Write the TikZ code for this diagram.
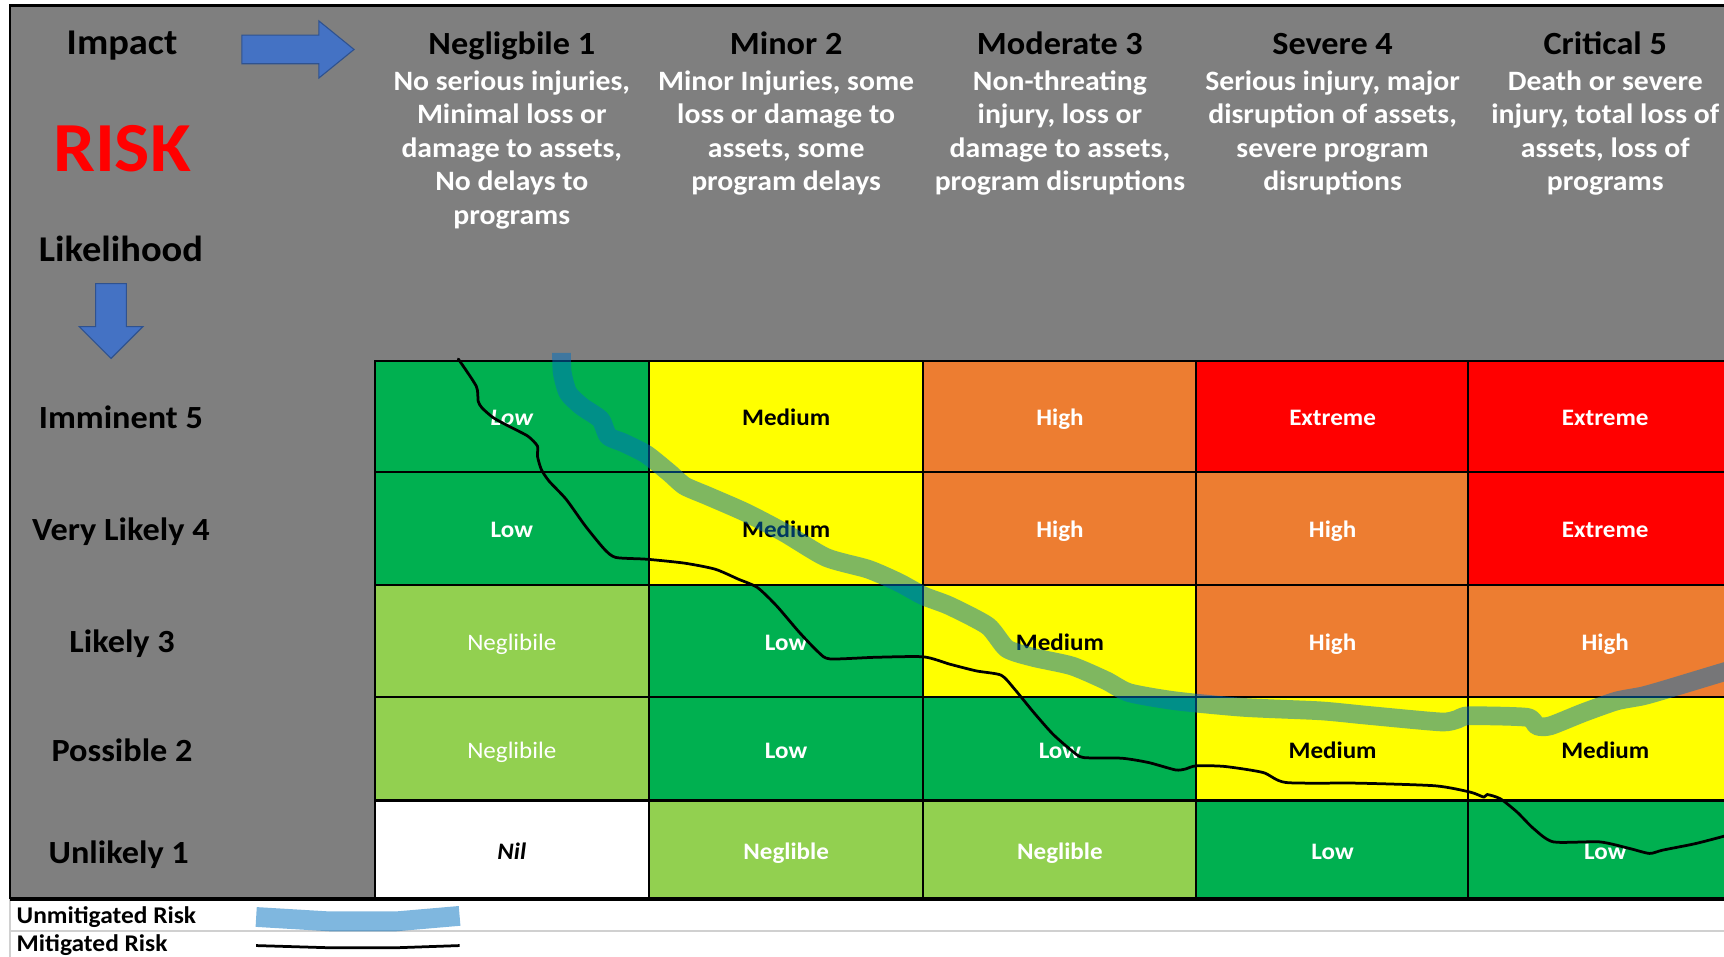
\documentclass[tikz,border=0pt]{standalone}
\usepackage{fontspec}
\setmainfont{Carlito}[FakeStretch=1.06]
\usetikzlibrary{positioning}
\definecolor{riskgrey}{HTML}{7F7F7F}
\definecolor{riskgreen}{HTML}{00B050}
\definecolor{risklime}{HTML}{92D050}
\definecolor{riskyellow}{HTML}{FFFF00}
\definecolor{riskorange}{HTML}{ED7D31}
\definecolor{riskred}{HTML}{FF0000}
\definecolor{arrowblue}{HTML}{4472C4}
\definecolor{arrowedge}{HTML}{2F528F}
\definecolor{bandblue}{HTML}{0070C0}
\definecolor{legendline}{HTML}{D0D0D0}
\newcommand\hdrfont{\fontsize{29.4}{34}\selectfont\bfseries}
\newcommand\axisfont{\fontsize{33}{38}\selectfont\bfseries}
\newcommand\descfont{\fontsize{25.5}{30.5}\selectfont\bfseries}
\newcommand\cellfont{\fontsize{21.5}{26}\selectfont\bfseries}
\newcommand\legfont{\fontsize{21.8}{26}\selectfont\bfseries}
\tikzset{
	cell/.style={draw=black, line width=2pt, minimum width=249pt, minimum height=#1, inner sep=0pt, text height=17pt, text depth=0pt, font=\cellfont},
	hdr/.style={font=\hdrfont, text=black, inner sep=0pt, anchor=base},
	axis/.style={font=\axisfont, text=black, inner sep=0pt, anchor=base},
	desc/.style={font=\descfont, text=white, align=center, anchor=north, inner sep=0pt},
	rowlab/.style={font=\hdrfont, text=black, inner sep=0pt, anchor=base},
	legend/.style={font=\legfont, anchor=west, inner sep=0pt},
	unmit/.style={draw=bandblue, draw opacity=0.5, line width=17pt, line join=round},
	mit/.style={draw=black, line width=2.5pt, line join=round, line cap=round}
}

\begin{document}
\begin{tikzpicture}[x=1pt, y=-1pt]
			%%%%% FRAME %%%%%
			\useasboundingbox (0,0) rectangle (1568,870);
			\clip (0,0) rectangle (1568,870);
			\fill[white] (0,0) rectangle (1568,870);
			\fill[riskgrey] (9,5) rectangle (1575,818);
			\draw[line width=2pt] (9,818) -- (9,5) -- (1575,5);
			\draw[legendline, line width=1.5pt] (9,818) -- (9,875);
			\draw[legendline, line width=1.5pt] (9,847) -- (1575,847);
			
			%%%%% AXES %%%%%
			\node[axis] (impact) at (111,50) {Impact};
			\node[font=\fontsize{64}{70}\selectfont\bfseries, text=riskred, inner sep=0pt] (risk) at (111,135) {RISK};
			\node[axis] (likelihood) at (110,238) {Likelihood};
			\draw[fill=arrowblue, draw=arrowedge, line width=1pt] (220,32) -- (290,32) -- (290,19) -- (322,45) -- (290,71) -- (290,58) -- (220,58) -- cycle;
			\draw[fill=arrowblue, draw=arrowedge, line width=1pt] (87,258) -- (115,258) -- (115,297) -- (130,297) -- (101,326) -- (72,297) -- (87,297) -- cycle;
			
			%%%%% IMPACT HEADERS %%%%%
			\node[hdr] (h1) at (465.5,49.5) {Negligbile 1};
			\node[hdr] (h2) at (715,49.5) {Minor 2};
			\node[hdr] (h3) at (964,49.5) {Moderate 3};
			\node[hdr] (h4) at (1212,49.5) {Severe 4};
			\node[hdr] (h5) at (1460,49.5) {Critical 5};
			\node[desc] (d1) at (465.5,64) {No serious injuries,\\Minimal loss or\\damage to assets,\\No delays to\\programs};
			\node[desc] (d2) at (715,64) {Minor Injuries, some\\loss or damage to\\assets, some\\program delays};
			\node[desc] (d3) at (964,64) {Non-threating\\injury, loss or\\damage to assets,\\program disruptions};
			\node[desc] (d4) at (1212,64) {Serious injury, major\\disruption of assets,\\severe program\\disruptions};
			\node[desc] (d5) at (1460,64) {Death or severe\\injury, total loss of\\assets, loss of\\programs};
			
			%%%%% LIKELIHOOD ROWS %%%%%
			\node[rowlab] (r5) at (110,389.5) {Imminent 5};
			\node[rowlab] (r4) at (110,491.5) {Very Likely 4};
			\node[rowlab] (r3) at (111,593.5) {Likely 3};
			\node[rowlab] (r2) at (111,692.5) {Possible 2};
			\node[rowlab] (r1) at (108,785.5) {Unlikely 1};
			
			%%%%% MATRIX %%%%%
			\node[cell=101pt, fill=riskgreen, text=white, font=\cellfont\itshape] (c51) at (465.5,378.5) {Low};
			\node[cell=101pt, fill=riskyellow] (c52) at (715,378.5) {Medium};
			\node[cell=101pt, fill=riskorange, text=white] (c53) at (964,378.5) {High};
			\node[cell=101pt, fill=riskred, text=white] (c54) at (1212,378.5) {Extreme};
			\node[cell=101pt, fill=riskred, text=white] (c55) at (1460,378.5) {Extreme};
			
			\node[cell=103pt, fill=riskgreen, text=white] (c41) at (465.5,480.5) {Low};
			\node[cell=103pt, fill=riskyellow] (c42) at (715,480.5) {Medium};
			\node[cell=103pt, fill=riskorange, text=white] (c43) at (964,480.5) {High};
			\node[cell=103pt, fill=riskorange, text=white] (c44) at (1212,480.5) {High};
			\node[cell=103pt, fill=riskred, text=white] (c45) at (1460,480.5) {Extreme};
			
			\node[cell=102pt, fill=risklime, text=white, font=\cellfont\mdseries] (c31) at (465.5,583) {Neglibile};
			\node[cell=102pt, fill=riskgreen, text=white] (c32) at (715,583) {Low};
			\node[cell=102pt, fill=riskyellow] (c33) at (964,583) {Medium};
			\node[cell=102pt, fill=riskorange, text=white] (c34) at (1212,583) {High};
			\node[cell=102pt, fill=riskorange, text=white] (c35) at (1460,583) {High};
			
			\node[cell=94pt, fill=risklime, text=white, font=\cellfont\mdseries] (c21) at (465.5,681) {Neglibile};
			\node[cell=94pt, fill=riskgreen, text=white] (c22) at (715,681) {Low};
			\node[cell=94pt, fill=riskgreen, text=white] (c23) at (964,681) {Low};
			\node[cell=94pt, fill=riskyellow] (c24) at (1212,681) {Medium};
			\node[cell=94pt, fill=riskyellow] (c25) at (1460,681) {Medium};
			
			\node[cell=90pt, fill=white, font=\cellfont\itshape] (c11) at (465.5,773) {Nil};
			\node[cell=90pt, fill=risklime, text=white] (c12) at (715,773) {Neglible};
			\node[cell=90pt, fill=risklime, text=white] (c13) at (964,773) {Neglible};
			\node[cell=90pt, fill=riskgreen, text=white] (c14) at (1212,773) {Low};
			\node[cell=90pt, fill=riskgreen, text=white] (c15) at (1460,773) {Low};
			
			%%%%% RISK TRACES %%%%%
			\draw[unmit] plot[smooth, tension=0.4] coordinates {(510.7,321) (511.4,339.2) (516.6,357.3) (528.8,369.4) (546.2,381.5) (553.2,396.7) (567.1,402.7) (588,413.3) (608.8,430) (622.7,442) (643.6,451) (678.4,466.2) (713.2,484.4) (751.4,507) (789.7,517.7) (817.5,529.8) (840,542) (863.6,551) (898.4,569.3) (915.8,590) (940.2,598) (975,605.7) (1006,619) (1027,630) (1068.9,637.4) (1131.5,643.4) (1201,646.5) (1244,650.6) (1310.4,656.6) (1325.5,654.2) (1336,651) (1388.7,652.4) (1397.8,660.2) (1409.8,660.2) (1440,648.2) (1470,637.6) (1494,633) (1515.3,627) (1567,611.4) (1580,608)};
			\draw[mit] plot[smooth, tension=0.4] coordinates {(416.8,326.5) (433.2,351.3) (434.9,364.9) (438.4,371) (448.8,380) (462.7,387.6) (480.1,396.7) (488.8,405.7) (488.8,414.8) (492.3,426.9) (499.3,437.5) (514.9,454.1) (532.3,478.3) (549.7,499.5) (560.1,507) (588,508.6) (622.7,512.2) (650.5,517.7) (671.4,526.7) (688.8,534.3) (706.2,550.9) (727,575.1) (744.5,593.3) (754.9,599.3) (796.6,597.8) (840,597.4) (863.6,604) (888,610.2) (910.6,614.1) (922.8,626.8) (940.2,648) (957.6,667.7) (975,682.9) (985.4,689) (1020.2,689.6) (1044.5,693.5) (1068.9,700.2) (1077.5,699.6) (1088,696.5) (1114,697.1) (1148.8,702.6) (1169.7,711.7) (1235.8,712.3) (1305.4,714.7) (1337.5,720.5) (1349.6,725) (1352.6,722.6) (1364.6,726.5) (1379.7,738.5) (1394.8,753.6) (1412.8,765.7) (1455,765.7) (1482.1,771.7) (1500.2,776.2) (1512.2,773.2) (1542.3,767.2) (1570,760)};
			
			\draw[line width=3.5pt] (9,818) -- (1575,818);
			
			%%%%% LEGEND %%%%%
			\node[legend] (unmitlabel) at (15,834) {Unmitigated Risk};
			\node[legend] (mitlabel) at (15,860) {Mitigated Risk};
			\draw[unmit, line width=18pt] (233,834) -- (300,838) -- (360,838) -- (418,833);
			\draw[mit, line cap=butt] (233,860) -- (300,862) -- (360,862) -- (418,860);
\end{tikzpicture}
\end{document}
